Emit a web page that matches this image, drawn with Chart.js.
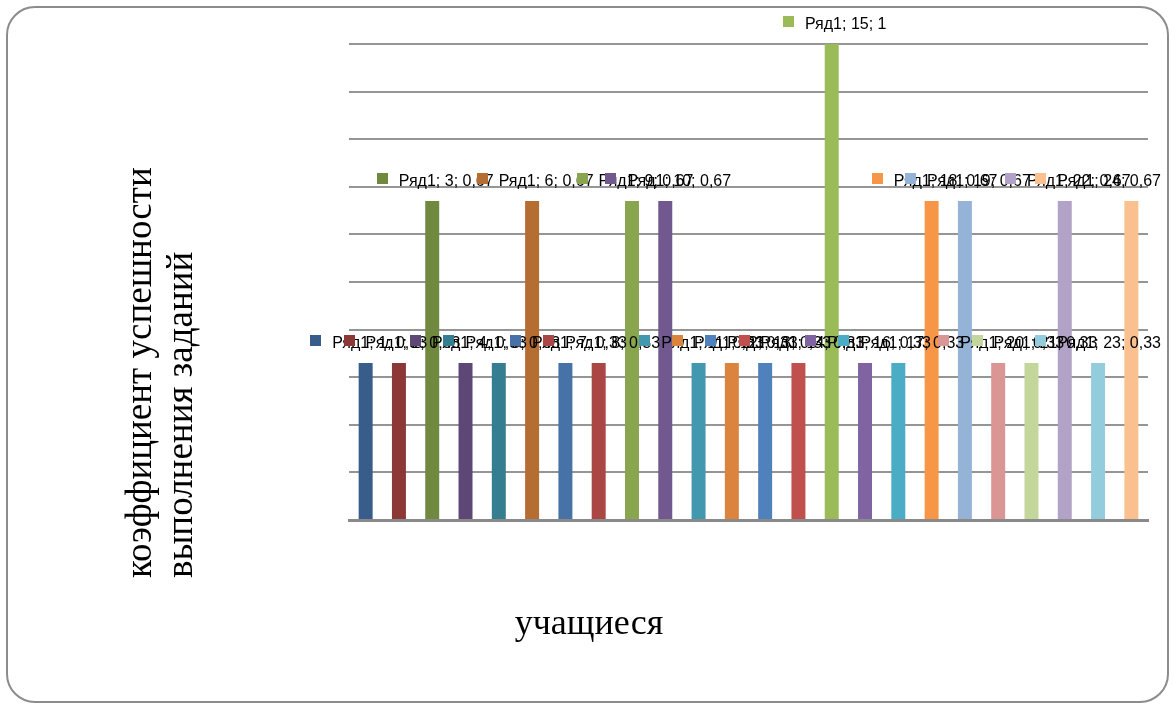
<!DOCTYPE html>
<html>
<head>
<meta charset="utf-8">
<script src="https://cdn.jsdelivr.net/npm/chart.js@4/dist/chart.umd.min.js"></script>
<style>
  html, body { margin: 0; padding: 0; background: #ffffff; }
  #wrap { position: relative; width: 1173px; height: 704px; }
  canvas { display: block; }
</style>
</head>
<body>
<div id="wrap"><canvas id="chart" width="1173" height="704"></canvas></div>
<script>
// Series name shown in every data label
const seriesName = 'Ряд1';

// Student numbers (categories)
const students = ['1','2','3','4','5','6','7','8','9','10','11','12',
                  '13','14','15','16','17','18','19','20','21','22','23','24'];

// Task success coefficient per student
const scores = [0.33, 0.33, 0.67, 0.33, 0.33, 0.67, 0.33, 0.33, 0.67, 0.67, 0.33, 0.33,
                0.33, 0.33, 1,    0.33, 0.33, 0.67, 0.67, 0.33, 0.33, 0.67, 0.33, 0.67];

// One colour per bar (varied colours by point)
const barColors = ['#385d8a', '#8c3836', '#71893f', '#5c4776', '#357d91', '#b66d31',
                   '#4672a8', '#aa4644', '#89a54e', '#71588f', '#4198af', '#db843d',
                   '#4f81bd', '#c0504d', '#9bbb59', '#8064a2', '#4bacc6', '#f79646',
                   '#95b3d7', '#d99694', '#c3d69b', '#b3a2c7', '#93cddd', '#fac090'];

// Axis titles
const yTitleLines = ['коэффициент успешности', 'выполнения заданий'];
const xTitle = 'учащиеся';

// Value axis range and gridline step
const yMin = 0;
const yMax = 1;
const yStep = 0.1;

function formatValue(v) {
  return String(v).replace('.', ',');
}

// Rounded outer frame of the chart
const framePlugin = {
  id: 'frame',
  beforeDraw(chart) {
    const ctx = chart.ctx;
    ctx.save();
    ctx.fillStyle = '#ffffff';
    ctx.fillRect(0, 0, chart.width, chart.height);
    const x = 7, y = 7, w = 1161, h = 695, r = 28;
    ctx.beginPath();
    ctx.moveTo(x + r, y);
    ctx.lineTo(x + w - r, y);
    ctx.arcTo(x + w, y, x + w, y + r, r);
    ctx.lineTo(x + w, y + h - r);
    ctx.arcTo(x + w, y + h, x + w - r, y + h, r);
    ctx.lineTo(x + r, y + h);
    ctx.arcTo(x, y + h, x, y + h - r, r);
    ctx.lineTo(x, y + r);
    ctx.arcTo(x, y, x + r, y, r);
    ctx.closePath();
    ctx.strokeStyle = '#8c8c8c';
    ctx.lineWidth = 2;
    ctx.stroke();
    ctx.restore();
  }
};

// Axis titles in a serif face
const titlesPlugin = {
  id: 'axisTitles',
  afterDraw(chart) {
    const ctx = chart.ctx;
    ctx.save();
    ctx.fillStyle = '#000000';
    ctx.font = '37px "Liberation Serif", "DejaVu Serif", serif';
    ctx.textBaseline = 'alphabetic';

    // vertical title, two lines reading upwards from a common start
    ctx.save();
    ctx.translate(0, 578);
    ctx.rotate(-Math.PI / 2);
    ctx.textAlign = 'left';
    ctx.fillText(yTitleLines[0], 0, 151);
    ctx.fillText(yTitleLines[1], 0, 192);
    ctx.restore();

    // horizontal title under the plot
    ctx.font = '36px "Liberation Serif", "DejaVu Serif", serif';
    ctx.textAlign = 'center';
    ctx.fillText(xTitle, 589, 634);
    ctx.restore();
  }
};

// Data labels: legend key + "series; category; value" above each bar
const labelsPlugin = {
  id: 'barLabels',
  afterDatasetsDraw(chart) {
    const ctx = chart.ctx;
    const meta = chart.getDatasetMeta(0);
    const rightLimit = 1161;
    ctx.save();
    ctx.font = '16px "Liberation Sans", Arial, sans-serif';
    ctx.textBaseline = 'alphabetic';
    ctx.textAlign = 'left';
    meta.data.forEach((bar, i) => {
      const text = seriesName + '; ' + students[i] + '; ' + formatValue(scores[i]);
      const tw = ctx.measureText(text).width;
      const key = 11, gap = 11;
      const total = key + gap + tw;
      let left = bar.x + 3 - total / 2;
      if (left + total > rightLimit) left = rightLimit - total;
      const baseline = bar.y - 15;
      ctx.fillStyle = barColors[i];
      ctx.fillRect(Math.round(left), Math.round(baseline - 13), key, key);
      ctx.fillStyle = '#000000';
      ctx.fillText(text, left + key + gap, baseline);
    });
    ctx.restore();
  }
};

const chart = new Chart(document.getElementById('chart'), {
  type: 'bar',
  data: {
    labels: students,
    datasets: [{
      label: seriesName,
      data: scores,
      backgroundColor: barColors,
      borderWidth: 0,
      categoryPercentage: 1,
      barPercentage: 0.42
    }]
  },
  options: {
    responsive: false,
    devicePixelRatio: 1,
    animation: false,
    layout: { padding: { left: 349, right: 25, top: 44, bottom: 184 } },
    plugins: {
      legend: { display: false },
      tooltip: { enabled: false },
      title: { display: false }
    },
    scales: {
      x: {
        ticks: { display: false },
        grid: { display: false, drawTicks: false },
        border: { display: true, color: '#8a8a8a', width: 3 }
      },
      y: {
        min: yMin,
        max: yMax,
        ticks: { display: false, stepSize: yStep },
        grid: { color: '#959595', lineWidth: 2, drawTicks: false },
        border: { display: false }
      }
    }
  },
  plugins: [framePlugin, titlesPlugin, labelsPlugin]
});
</script>
</body>
</html>
